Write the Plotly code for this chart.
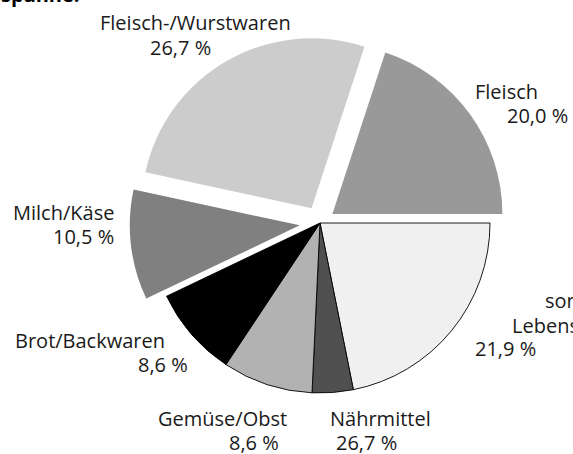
import plotly.graph_objects as go

# ─────────────────────────────────────────────
# DATA (slice sizes, printed labels as shown)
# ─────────────────────────────────────────────
categories = ["sonstige Lebensmittel", "Nährmittel", "Gemüse/Obst", "Brot/Backwaren",
              "Milch/Käse", "Fleisch-/Wurstwaren", "Fleisch"]
shares = [21.9, 3.9, 8.6, 8.6, 10.5, 26.7, 20.0]
printed_pct = ["21,9 %", "26,7 %", "8,6 %", "8,6 %", "10,5 %", "26,7 %", "20,0 %"]
name_lines = ["sonstige<br>Lebensmittel", "Nährmittel", "Gemüse/Obst", "Brot/Backwaren",
              "Milch/Käse", "Fleisch-/Wurstwaren", "Fleisch"]
pulls = [0, 0, 0, 0, 0.12, 0.10, 0.09]

COLORS = ["#f0f0f0", "#505050", "#b2b2b2", "#000000", "#808080", "#cccccc", "#999999"]
EDGE_W = [0.9, 0.9, 0.9, 0.9, 0, 0, 0]

W, H = 573, 454
CX, CY, R = 320, 223, 170
half = R * (1 + max(pulls))

fig = go.Figure(go.Pie(
    labels=categories,
    values=shares,
    sort=False,
    direction="clockwise",
    rotation=90,
    pull=pulls,
    textinfo="none",
    hoverinfo="label+percent",
    marker=dict(colors=COLORS, line=dict(color="#000000", width=EDGE_W)),
    domain=dict(x=[(CX - half) / W, (CX + half) / W],
                y=[(H - CY - half) / H, (H - CY + half) / H]),
    showlegend=False,
))

# label placement (pixel centres: name line, percent line)
label_pos = [
    ((584, 300), (572, 325), (505, 348)),   # sonstige: two name lines, cut at the edge
    ((380, 418), None, (366, 442)),
    ((222, 418), None, (254, 442)),
    ((90, 340), None, (163, 364)),
    ((63, 212), None, (83, 237)),
    ((195, 22), None, (180, 47)),
    ((506, 91), None, (537, 115)),
]

FONT = dict(family="'Open Sans', sans-serif", size=20, color="#1a1a1a")


def add_text(txt, px, py):
    fig.add_annotation(text=txt, x=px / W, y=1 - py / H, xref="paper", yref="paper",
                       xanchor="center", yanchor="middle", showarrow=False, font=FONT)


for i, (p1, p2, p3) in enumerate(label_pos):
    if p2 is not None:
        first, second = name_lines[i].split("<br>")
        add_text(first, *p1)
        add_text(second, *p2)
    else:
        add_text(name_lines[i], *p1)
    add_text(printed_pct[i], *p3)

# title mostly cut off at the top edge
fig.add_annotation(text="<b>Handelsspanne:</b>", x=82 / W, y=1 + 5.5 / H, xref="paper", yref="paper",
                   xanchor="right", yanchor="middle", showarrow=False,
                   font=dict(family="'Open Sans', sans-serif", size=20, color="#000000"))

fig.update_layout(
    width=W, height=H,
    margin=dict(t=0, b=0, l=0, r=0),
    paper_bgcolor="white",
    plot_bgcolor="white",
)

fig.write_html("out.html", config=dict(displayModeBar=False),
               post_script="document.body.style.margin='0';")
